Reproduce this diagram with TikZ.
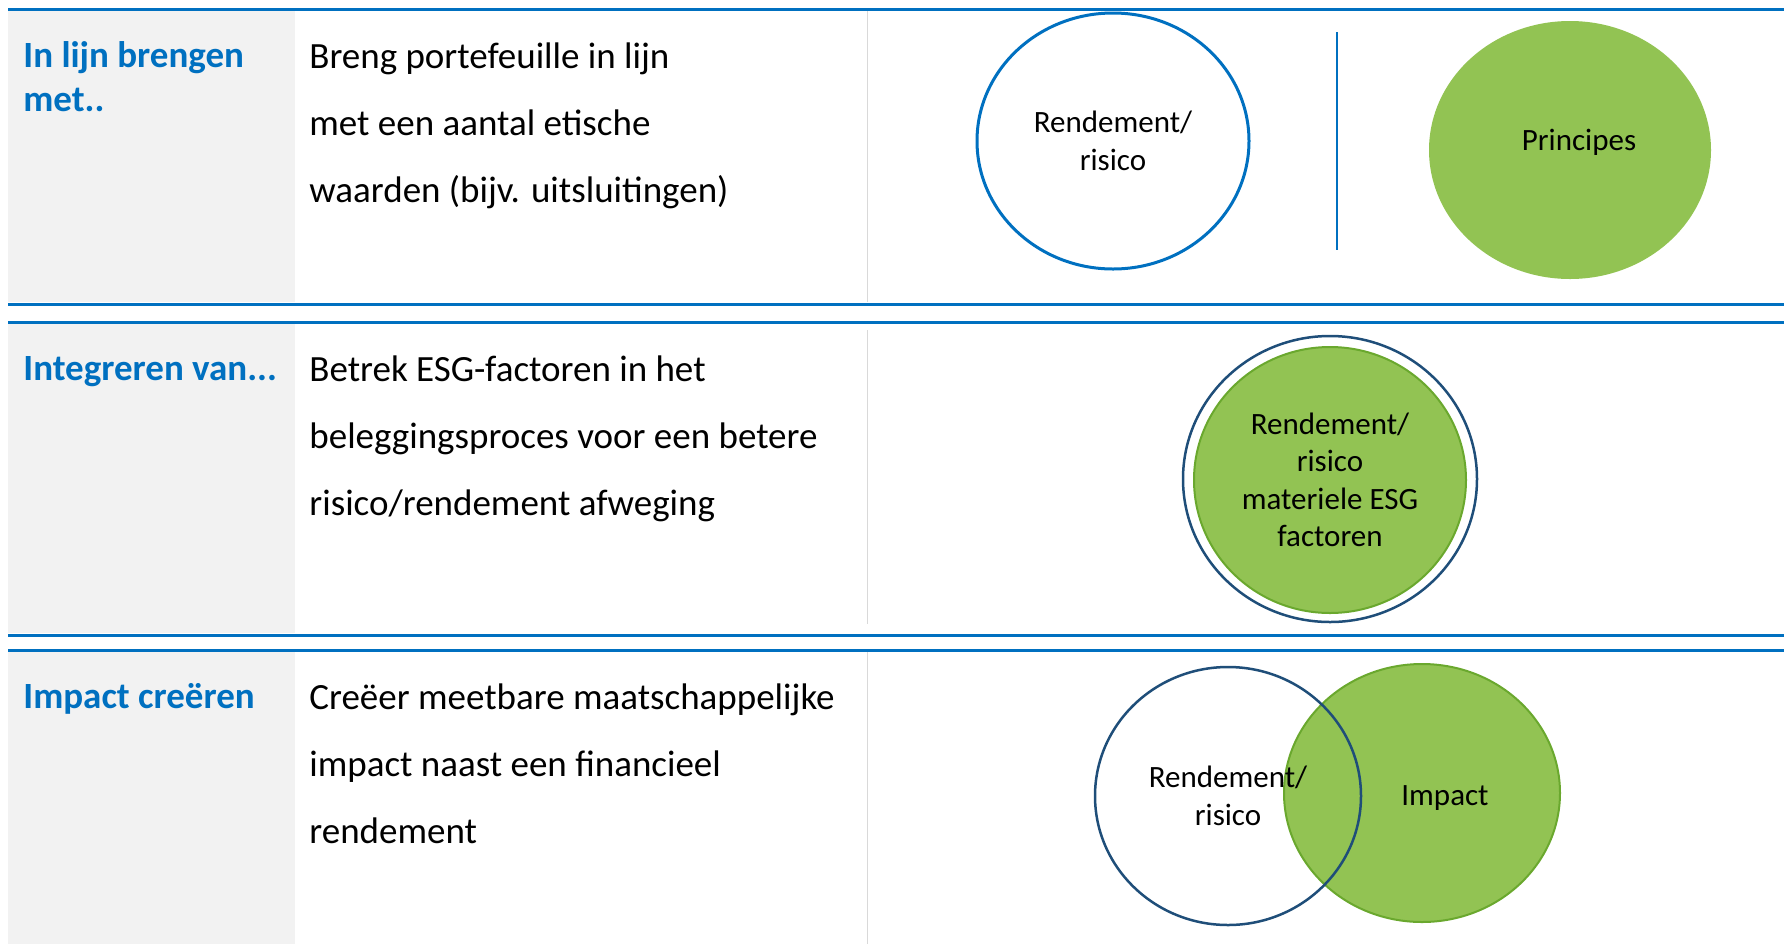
\documentclass[tikz,border=0pt]{standalone}
\usepackage{fontspec}
\setmainfont{Carlito}
\usetikzlibrary{shapes.geometric}
\definecolor{lineblue}{HTML}{0070C0}
\definecolor{darkblue}{HTML}{1F4E79}
\definecolor{greenfill}{HTML}{92C353}
\definecolor{greenline}{HTML}{6AA82E}
\definecolor{greycol}{HTML}{F2F2F2}
\definecolor{sepgrey}{HTML}{D9D9D9}

\begin{document}
\begin{tikzpicture}[x=0.5pt,y=-0.5pt]
\tikzstyle{rule}=[lineblue, line width=1.5pt]
\tikzstyle{sep}=[sepgrey, line width=0.5pt]
\tikzstyle{title}=[anchor=base west, align=left, inner sep=0pt, text=lineblue, font=\fontsize{18.5}{22}\selectfont\bfseries]
\tikzstyle{body}=[anchor=base west, align=left, inner sep=0pt, font=\fontsize{18.5}{33.5}\selectfont]
\tikzstyle{bubble}=[ellipse, inner sep=0pt, align=center, font=\fontsize{15.5}{18.75}\selectfont]
\useasboundingbox (0,0) rectangle (1784,944);

% grey first column
\fill[greycol] (8,11) rectangle (295,302);
\fill[greycol] (8,324) rectangle (295,633);
\fill[greycol] (8,652) rectangle (295,944);

% table rules
\foreach \y in {9.5,304,322,635,650}
	\draw[rule] (8,\y) -- (1784,\y);
\draw[sep] (867,11) -- (867,302);
\draw[sep] (867,330) -- (867,624);
\draw[sep] (867,652) -- (867,944);

% row 1 (base = last line)
\node[title] (t1) at (23,111) {In lijn brengen\\met..};
\node[body] (b1) at (309,202) {Breng portefeuille in lijn\\met een aantal etische\\waarden (bijv. uitsluitingen)};
\node[bubble, draw=lineblue, line width=1.5pt, minimum width=136pt, minimum height=128pt] (ret1) at (1113,141) {Rendement/\\risico};
\coordinate (d1) at (1337,32);
\coordinate (d2) at (1337,250);
\draw[lineblue, line width=0.75pt] (d1) -- (d2);
\node[bubble, fill=greenfill, minimum width=141pt, minimum height=129pt] (prin) at (1570,150) {};
\node[bubble] (prinlabel) at ([xshift=4.5pt,yshift=4pt]prin.center) {Principes};

% row 2
\node[title] (t2) at (23,380) {Integreren van...};
\node[body] (b2) at (309,515) {Betrek ESG-factoren in het\\beleggingsproces voor een betere\\risico/rendement afweging};
\node[bubble, draw=darkblue, line width=1.25pt, minimum width=147pt, minimum height=143pt] (ring) at (1330,479) {};
\node[bubble, fill=greenfill, draw=greenline, line width=1pt, minimum width=136pt, minimum height=133pt] (esg) at (1330,480) {Rendement/\\risico\\materiele ESG\\factoren};

% row 3
\node[title] (t3) at (23,708) {Impact creëren};
\node[body] (b3) at (309,843) {Creëer meetbare maatschappelijke\\impact naast een financieel\\rendement};
\node[bubble, fill=greenfill, draw=greenline, line width=1pt, minimum width=138pt, minimum height=129pt] (imp) at (1422,793) {};
\node[bubble] (implabel) at ([xshift=11.5pt,yshift=-2.5pt]imp.center) {Impact};
\node[bubble, draw=darkblue, line width=1.25pt, minimum width=133pt, minimum height=129pt] (ret3) at (1228,796) {Rendement/\\risico};
\end{tikzpicture}
\end{document}
